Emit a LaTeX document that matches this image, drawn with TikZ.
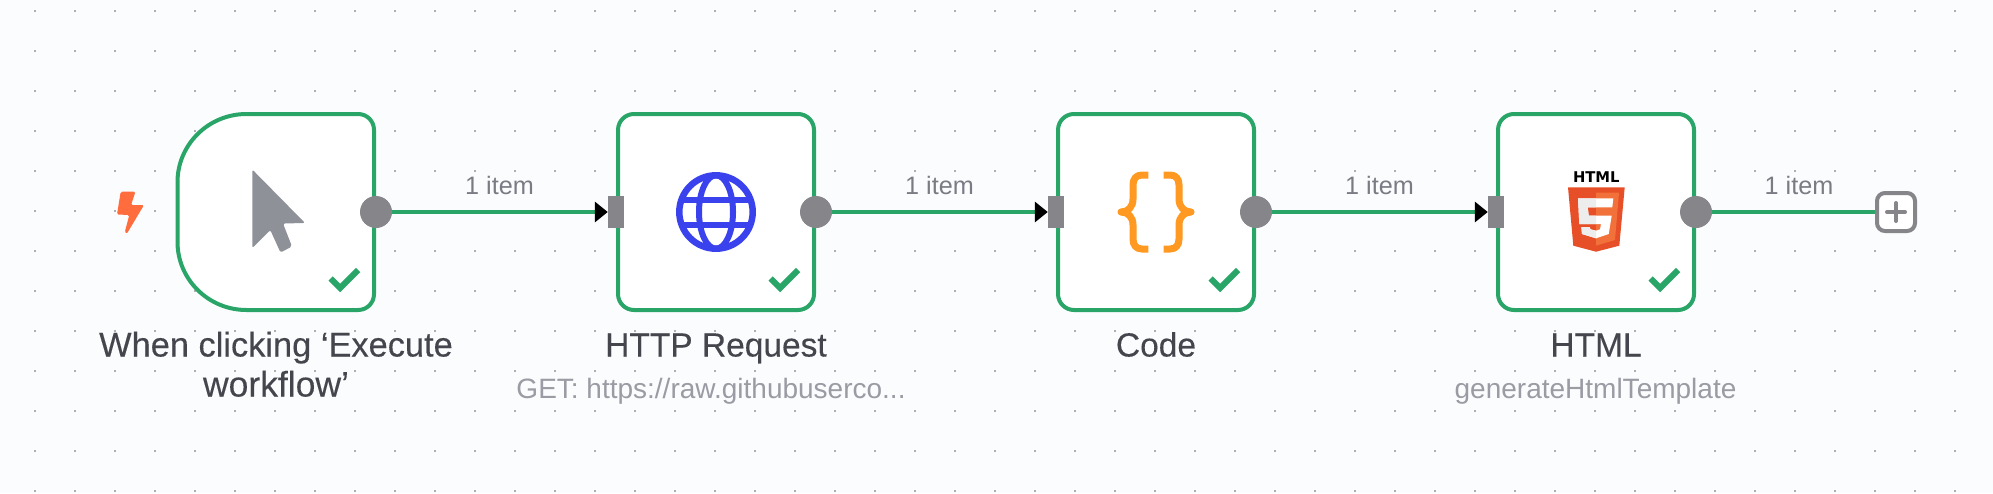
\documentclass[tikz,border=0pt]{standalone}
\usepackage{fontspec}
\setmainfont{Liberation Sans}
\newfontfamily\titlefont[FakeBold=0.25]{Liberation Sans}
\newfontfamily\logofont{DejaVu Sans}
\usetikzlibrary{arrows.meta}
\definecolor{bgc}{HTML}{FBFCFE}
\definecolor{dotc}{HTML}{AFAFB2}
\definecolor{okgreen}{HTML}{29A568}
\definecolor{portc}{HTML}{85858A}
\definecolor{titlec}{HTML}{45454D}
\definecolor{subc}{HTML}{9A9BA3}
\definecolor{itemc}{HTML}{7B7B84}
\definecolor{cursorc}{HTML}{8F9199}
\definecolor{boltc}{HTML}{FF6D3F}
\definecolor{globec}{HTML}{3A42EE}
\definecolor{bracec}{HTML}{FF9922}
\definecolor{shieldc}{HTML}{E64F27}
\definecolor{shieldl}{HTML}{F2703A}
\tikzset{
  box/.style={draw=okgreen,line width=4pt,fill=white,rounded corners=16pt,minimum width=196pt,minimum height=196pt,inner sep=0pt},
  boxghost/.style={minimum width=196pt,minimum height=196pt,inner sep=0pt},
  outport/.style={circle,fill=portc,minimum size=32pt,inner sep=0pt},
  inport/.style={rectangle,fill=portc,minimum width=16pt,minimum height=32pt,inner sep=0pt},
  link/.style={draw=okgreen,line width=4pt},
  arrowlink/.style={link,-{Triangle[length=13pt,width=20pt,color=black]}},
  itemlabel/.style={anchor=base,text=itemc,font=\fontsize{25.2}{28}\selectfont,inner sep=0pt},
  titlelabel/.style={anchor=base,text=titlec,font=\titlefont\fontsize{33.5}{40}\selectfont,inner sep=0pt},
  sublabel/.style={anchor=base,text=subc,font=\fontsize{28}{30}\selectfont,inner sep=0pt},
  okmark/.style={draw=okgreen,line width=6pt,miter limit=10},
  addbox/.style={draw=portc,line width=4pt,fill=white,rounded corners=8pt,minimum size=38pt,inner sep=0pt}
}
\newcommand{\okat}[1]{\draw[okmark] (#1,278.5) -- ++(9.5,9.5) -- ++(18,-18);}
\begin{document}
\begin{tikzpicture}[x=1pt,y=-1pt]
\useasboundingbox (0,0) rectangle (1993,493);
\fill[bgc] (0,0) rectangle (1993,493);
\foreach \i in {0,...,49}{\foreach \j in {0,...,12}{
  \fill[dotc] ({34+40*\i},{10+40*\j}) rectangle ++(2,2);}}
% nodes
\node[boxghost] (n1) at (276,212) {};
\path[draw=okgreen,line width=4pt,fill=white]
  (246.5,114) -- (358,114) .. controls (367,114) and (374,121) .. (374,130)
  -- (374,294) .. controls (374,303) and (367,310) .. (358,310)
  -- (246.5,310) .. controls (208,310) and (177.5,279) .. (177.5,242)
  -- (177.5,182) .. controls (177.5,145) and (208,114) .. (246.5,114) -- cycle;
\node[box] (n2) at (716,212) {};
\node[box] (n3) at (1156,212) {};
\node[box] (n4) at (1596,212) {};
\node[outport] (o1) at (376,212) {};
\node[outport] (o2) at (816,212) {};
\node[outport] (o3) at (1256,212) {};
\node[outport] (o4) at (1696,212) {};
\node[inport] (i2) at (616,212) {};
\node[inport] (i3) at (1056,212) {};
\node[inport] (i4) at (1496,212) {};
\node[addbox] (add) at (1896,212) {};
\draw[portc,line width=4pt,line cap=round] (1887,212) -- (1905,212) (1896,203) -- (1896,221);
% connectors
\draw[arrowlink] (o1.east) -- (i2.west);
\draw[arrowlink] (o2.east) -- (i3.west);
\draw[arrowlink] (o3.east) -- (i4.west);
\draw[link] (o4.east) -- (add.west);
% labels
\node[itemlabel] (l1) at (499.5,194) {1 item};
\node[itemlabel] (l2) at (939.5,194) {1 item};
\node[itemlabel] (l3) at (1379.5,194) {1 item};
\node[itemlabel] (l4) at (1799,194) {1 item};
\node[titlelabel,font=\titlefont\fontsize{34.4}{40}\selectfont] (t1a) at (276,356.5) {When clicking ‘Execute};
\node[titlelabel,font=\titlefont\fontsize{35.5}{40}\selectfont] (t1b) at (276,396.5) {workflow’};
\node[titlelabel] (t2) at (716,356.5) {HTTP Request};
\node[titlelabel] (t3) at (1156,356.5) {Code};
\node[titlelabel] (t4) at (1596,356.5) {HTML};
\node[sublabel] (s2) at (711,398) {GET: https://raw.githubuserco...};
\node[sublabel] (s4) at (1595.5,398) {generateHtmlTemplate};
% checks
\okat{330.7}\okat{770.7}\okat{1210.7}\okat{1650.7}
% bolt
\fill[boltc,rounded corners=1.5pt] (120.7,191.7) -- (135.5,191.7) -- (131,205) -- (144,205) -- (126.7,234) -- (124.8,232) -- (129.3,215) -- (117,214.5) -- cycle;
% cursor
\fill[cursorc,rounded corners=2pt] (252.3,169.5) -- (305,223) -- (283,223.5) -- (292,246.5) -- (280.5,252.5) -- (270.3,230) -- (252.3,248) -- cycle;
% globe
\draw[globec,line width=6.5pt] (716,212) circle[radius=36.7];
\draw[globec,line width=6pt] (716,212) ellipse[x radius=17,y radius=36.7];
\draw[globec,line width=6pt] (681.5,199.5) -- (750.5,199.5) (681.5,224.5) -- (750.5,224.5);
% braces
\draw[bracec,line width=7pt,line join=round] (1148.3,175) -- (1142,175) .. controls (1136,175) and (1133,179) .. (1133,185)
  -- (1133,199) .. controls (1133,207) and (1128,212) .. (1121,212)
  .. controls (1128,212) and (1133,217) .. (1133,225) -- (1133,239)
  .. controls (1133,245) and (1136,249) .. (1142,249) -- (1148.3,249);
\draw[bracec,line width=7pt,line join=round] (1163.7,175) -- (1170,175) .. controls (1176,175) and (1179,179) .. (1179,185)
  -- (1179,199) .. controls (1179,207) and (1184,212) .. (1191,212)
  .. controls (1184,212) and (1179,217) .. (1179,225) -- (1179,239)
  .. controls (1179,245) and (1176,249) .. (1170,249) -- (1163.7,249);
% html5
\node[anchor=base,inner sep=0pt,font=\logofont\bfseries\fontsize{14.8}{15}\selectfont] (h5) at (1596.3,182.8) {HTML};
\fill[shieldc] (1568,187.3) -- (1624.7,187.3) -- (1619.3,245.7) -- (1596,251.7) -- (1573.3,245.7) -- cycle;
\fill[shieldl] (1596,192.7) -- (1619,192.7) -- (1615,240) -- (1596,245.7) -- cycle;
\def\fivepath{(1578,198.3) -- (1613.3,198.3) -- (1612.3,207.3) -- (1587.7,207.3) -- (1588.7,215.7) -- (1611.7,215.7) -- (1608.7,234) -- (1596,238.3) -- (1582,234) -- (1581.3,227) -- (1589.8,227) -- (1590.3,229.3) -- (1596,230.7) -- (1600,229.3) -- (1601,224) -- (1579.3,224) -- cycle}
\fill[white] \fivepath;
\begin{scope}
\clip (1560,190) rectangle (1596,245);
\fill[black!7] \fivepath;
\end{scope}
\end{tikzpicture}
\end{document}
